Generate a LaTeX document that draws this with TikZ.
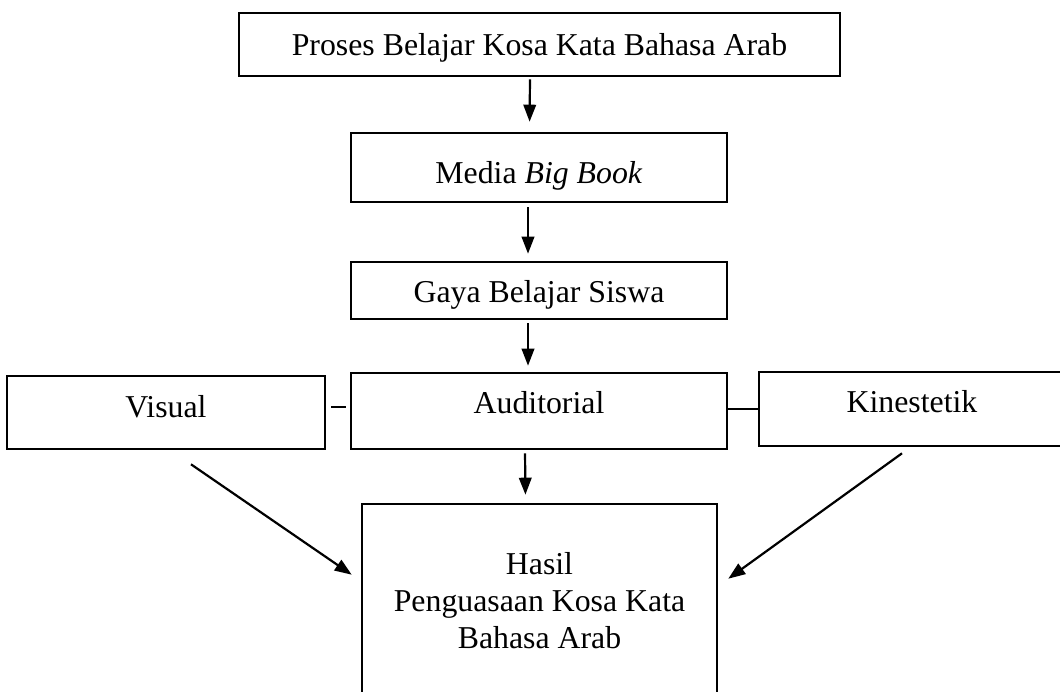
\documentclass[tikz,border=0pt]{standalone}
\usepackage{fontspec}
\setmainfont{Liberation Serif}
\usetikzlibrary{arrows.meta}

\tikzset{
  kotak/.style={draw, line width=2.6pt, inner xsep=0pt, inner ysep=0pt,
    font=\fontsize{31.8}{37}\selectfont},
  panah/.style={-{Triangle[length=17pt,width=12.5pt]}, line width=2.2pt},
  garis/.style={line width=1.8pt}
}

\begin{document}
\begin{tikzpicture}[x=1pt,y=-1pt]
  \useasboundingbox (0,0) rectangle (1060,691);
  \node[kotak, minimum width=601pt, text height=42pt, text depth=21pt] (proses) at (539.5,44.5) {Proses Belajar Kosa Kata Bahasa Arab};
  \node[kotak, minimum width=376pt, text height=50pt, text depth=19pt] (media) at (539,167.5) {Media \textit{Big Book}};
  \node[kotak, minimum width=376pt, text height=40pt, text depth=17pt] (gaya) at (539,290.5) {Gaya Belajar Siswa};
  \node[kotak, minimum width=318pt, text height=41pt, text depth=32pt] (visual) at (166,412.5) {Visual};
  \node[kotak, minimum width=376pt, text height=40pt, text depth=36pt] (auditorial) at (539,411) {Auditorial};
  \node[kotak, minimum width=306pt, text height=40pt, text depth=34pt] (kinestetik) at (912,409) {Kinestetik};
  \node[kotak, minimum width=355pt, minimum height=194pt, align=center] (hasil) at (539.5,601) {Hasil\\Penguasaan Kosa Kata\\Bahasa Arab};

  \draw[panah, shorten <=2pt, shorten >=10pt] ([xshift=-9.5pt]proses.south) -- ([xshift=-9.5pt]media.north);
  \draw[panah, shorten <=4pt, shorten >=7pt] ([xshift=-11pt]media.south) -- ([xshift=-11pt]gaya.north);
  \draw[panah, shorten <=3pt, shorten >=6pt] ([xshift=-11pt]gaya.south) -- ([xshift=-11pt]auditorial.north);
  \draw[panah, shorten <=3pt, shorten >=8pt] ([xshift=-14pt]auditorial.south) -- ([xshift=-14pt]hasil.north);
  \draw[garis] ([shift={(5,-5.5)}]visual.east) -- ([shift={(-4,-4)}]auditorial.west);
  \draw[garis] ([shift={(0,-2)}]auditorial.east) -- (kinestetik.west);
  \draw[panah] ([shift={(25,14)}]visual.south) -- ([shift={(-9,72)}]hasil.north west);
  \draw[panah] ([shift={(-10,6)}]kinestetik.south) -- ([shift={(10,76)}]hasil.north east);
\end{tikzpicture}
\end{document}
